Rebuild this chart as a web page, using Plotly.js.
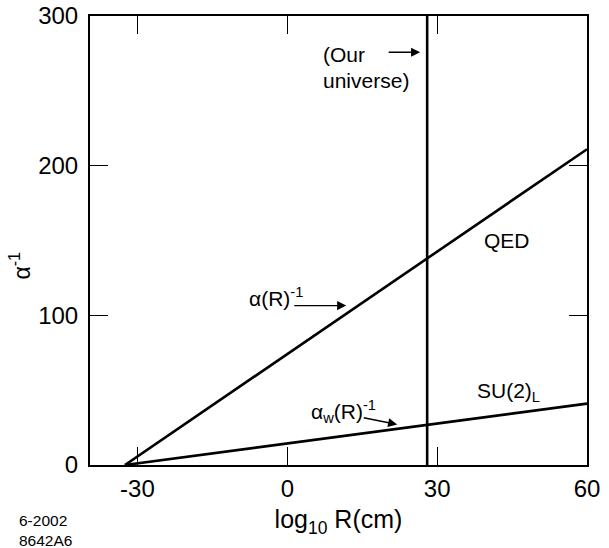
<!DOCTYPE html>
<html>
<head>
<meta charset="utf-8">
<script src="https://cdn.plot.ly/plotly-3.0.1.min.js"></script>
<style>html,body{margin:0;padding:0;background:#fff;}#chart{width:609px;height:548px;}</style>
</head>
<body>
<div id="chart"></div>
<script>
// Data
var qedX = [-32.5, 60];
var qedY = [0, 211];
var su2X = [-32.5, 60];
var su2Y = [0, 41];
var universeX = [28, 28];
var universeY = [0, 300];
var xTicks = [-30, 0, 30, 60];
var xTickLabels = ['-30', '0', '30', '60'];
var yTicks = [0, 100, 200, 300];
var yTickLabels = ['0', '100', '200', '300'];

var FONT = 'Liberation Sans, Arial, Helvetica, sans-serif';
var lineStyle = {color: '#000', width: 2.6};

var traces = [
  {x: qedX, y: qedY, mode: 'lines', line: lineStyle, name: 'QED', hoverinfo: 'skip'},
  {x: su2X, y: su2Y, mode: 'lines', line: lineStyle, name: 'SU(2)L', hoverinfo: 'skip'},
  {x: universeX, y: universeY, mode: 'lines', line: lineStyle, name: 'Our universe', hoverinfo: 'skip'}
];

function arrow(x0, y0, x1, y1) {
  return {x: x1, y: y1, ax: x0, ay: y0, xref: 'x', yref: 'y', axref: 'x', ayref: 'y',
    text: '', showarrow: true, arrowhead: 2, arrowsize: 1.3, arrowwidth: 1.4, arrowcolor: '#000', standoff: 0};
}
function label(text, x, y, xanchor, size) {
  return {x: x, y: y, xref: 'x', yref: 'y', text: text, showarrow: false,
    xanchor: xanchor || 'center', yanchor: 'middle', align: 'left',
    font: {family: FONT, size: size || 21, color: '#000'}};
}

var annotations = [
  label('(Our', 6.8, 274.5, 'left'),
  label('universe)', 6.8, 257.1, 'left'),
  arrow(20.0, 275.8, 26.6, 275.8),
  label('α(R)<sup>-1</sup>', -2.3, 112.5),
  arrow(1.1, 106.5, 11.8, 106.5),
  label('α<sub>w</sub>(R)<sup>-1</sup>', 11.3, 35.5),
  arrow(15.0, 31.8, 22.0, 27.1),
  label('SU(2)<sub>L</sub>', 44.2, 49.0),
  label('QED', 44.0, 149.8),
  {x: -0.147, y: -0.145, xref: 'paper', yref: 'paper', text: '6-2002<br>8642A6', showarrow: false,
    xanchor: 'left', yanchor: 'middle', align: 'left', font: {family: FONT, size: 15.5, color: '#000'}},
  {x: -0.14, y: 0.445, xref: 'paper', yref: 'paper', text: 'α<sup>-1</sup>', showarrow: false,
    textangle: -90, xanchor: 'center', yanchor: 'middle', font: {family: FONT, size: 23, color: '#000'}}
];

var axisCommon = {
  showline: true, linecolor: '#000', linewidth: 2, mirror: 'ticks',
  ticks: 'inside', ticklen: 18, tickwidth: 1.3, tickcolor: '#000',
  showgrid: false, zeroline: false, fixedrange: true,
  tickfont: {family: FONT, size: 24, color: '#000'}
};

var layout = {
  width: 609, height: 548,
  margin: {l: 90, r: 22, t: 15.5, b: 82.5},
  paper_bgcolor: '#fff', plot_bgcolor: '#fff',
  showlegend: false,
  font: {family: FONT, color: '#000'},
  xaxis: Object.assign({}, axisCommon, {
    range: [-39.5, 60], tickmode: 'array', tickvals: xTicks, ticktext: xTickLabels,
    ticklabelstandoff: 1,
    title: {text: 'log<sub>10</sub> R(cm)', font: {family: FONT, size: 25, color: '#000'}, standoff: 10}
  }),
  yaxis: Object.assign({}, axisCommon, {
    range: [0, 300], tickmode: 'array', tickvals: yTicks, ticktext: yTickLabels,
    ticklabelstandoff: 5
  }),
  annotations: annotations
};

Plotly.newPlot('chart', traces, layout, {staticPlot: true, displayModeBar: false});
</script>
</body>
</html>
